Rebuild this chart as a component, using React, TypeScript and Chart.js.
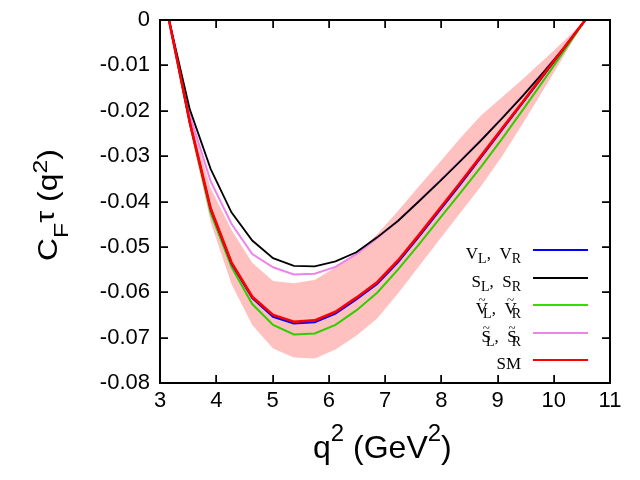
import React, { useEffect, useRef } from 'react';
import { Chart, registerables } from 'chart.js';

Chart.register(...registerables);

// q^2 grid (GeV^2)
const q2 = [3.16, 3.53, 3.9, 4.27, 4.64, 5.01, 5.38, 5.75, 6.12, 6.49, 6.86, 7.23, 7.6, 7.97, 8.34, 8.71, 9.08, 9.45, 9.82, 10.19, 10.56];

// SM
const smVals = [0, -0.0225, -0.0415, -0.0534, -0.061, -0.065, -0.0665, -0.0662, -0.0643, -0.0612, -0.0578, -0.053, -0.0474, -0.0416, -0.0358, -0.0299, -0.0239, -0.018, -0.012, -0.006, 0];
// V_L, V_R
const vVals = [0, -0.0226, -0.0417, -0.0537, -0.0613, -0.0654, -0.0669, -0.0666, -0.0647, -0.0616, -0.0582, -0.0534, -0.0478, -0.042, -0.0362, -0.0302, -0.0242, -0.0182, -0.0122, -0.0061, 0];
// S_L, S_R
const sVals = [0, -0.0197, -0.0328, -0.0424, -0.0486, -0.0525, -0.0542, -0.0543, -0.0532, -0.0512, -0.0479, -0.0443, -0.04, -0.0356, -0.0311, -0.0265, -0.0217, -0.0167, -0.0115, -0.006, 0];
// tilde V_L, tilde V_R
const tvVals = [0, -0.0228, -0.0425, -0.0544, -0.0626, -0.0672, -0.0693, -0.0691, -0.0672, -0.064, -0.0601, -0.055, -0.0495, -0.0438, -0.0381, -0.0323, -0.0262, -0.0198, -0.0133, -0.0067, 0];
// tilde S_L, tilde S_R
const tsVals = [0, -0.021, -0.0355, -0.0449, -0.0516, -0.0545, -0.0561, -0.0559, -0.0544, -0.0516, -0.0481, -0.0442, -0.0399, -0.0355, -0.031, -0.0264, -0.0216, -0.0166, -0.0114, -0.0059, 0];
// SM uncertainty band
const bandHi = [0, -0.0212, -0.037, -0.0462, -0.0535, -0.0575, -0.058, -0.0573, -0.0545, -0.0516, -0.0472, -0.0421, -0.0367, -0.0314, -0.026, -0.021, -0.017, -0.013, -0.0088, -0.0045, 0];
const bandLo = [0, -0.024, -0.0445, -0.0582, -0.0672, -0.0724, -0.0744, -0.0746, -0.0726, -0.0696, -0.0658, -0.0603, -0.0543, -0.0484, -0.0425, -0.0366, -0.03, -0.0228, -0.0153, -0.0077, 0];

const xTicks = [3, 4, 5, 6, 7, 8, 9, 10, 11];
const yTicks = [0, -0.01, -0.02, -0.03, -0.04, -0.05, -0.06, -0.07, -0.08];

type Seg = { t: string; sub?: boolean; sup?: boolean; tilde?: boolean; back?: number; size?: number; shift?: number };

const legendRows: { color: string; segs: Seg[] }[] = [
  { color: '#0000ff', segs: [{ t: 'V' }, { t: 'L', sub: true }, { t: ',  ' }, { t: 'V' }, { t: 'R', sub: true }] },
  { color: '#000000', segs: [{ t: 'S' }, { t: 'L', sub: true }, { t: ',  ' }, { t: 'S' }, { t: 'R', sub: true }] },
  { color: '#33dd00', segs: [{ t: 'V', tilde: true }, { t: 'L', sub: true, back: 5 }, { t: ',  ' }, { t: 'V', tilde: true }, { t: 'R', sub: true, back: 5 }] },
  { color: '#ee82ee', segs: [{ t: 'S', tilde: true }, { t: 'L', sub: true, back: 5 }, { t: ',  ' }, { t: 'S', tilde: true }, { t: 'R', sub: true, back: 5 }] },
  { color: '#ff0000', segs: [{ t: 'SM' }] },
];

const SANS = '"Liberation Sans", Arial, sans-serif';
const SERIF = '"Liberation Serif", "Times New Roman", serif';

function segWidth(ctx: CanvasRenderingContext2D, segs: Seg[], base: number, small: number, fam: string) {
  let w = 0;
  for (const s of segs) {
    ctx.font = `${s.size ?? (s.sub || s.sup ? small : base)}px ${fam}`;
    w += ctx.measureText(s.t).width - (s.back || 0);
  }
  return w;
}

function drawSegs(
  ctx: CanvasRenderingContext2D,
  segs: Seg[],
  x: number,
  y: number,
  base: number,
  small: number,
  fam: string,
  subShift: number,
  supShift: number
) {
  let cx = x;
  ctx.textAlign = 'left';
  ctx.textBaseline = 'alphabetic';
  for (const s of segs) {
    const size = s.size ?? (s.sub || s.sup ? small : base);
    ctx.font = `${size}px ${fam}`;
    cx -= s.back || 0;
    const dy = s.shift ?? (s.sub ? subShift : s.sup ? supShift : 0);
    ctx.fillText(s.t, cx, y + dy);
    const w = ctx.measureText(s.t).width;
    if (s.tilde) {
      ctx.save();
      ctx.font = `${Math.round(size * 0.75)}px ${fam}`;
      ctx.textAlign = 'center';
      ctx.textBaseline = 'middle';
      ctx.fillText('~', cx + w / 2, y - size * 0.8);
      ctx.restore();
    }
    cx += w;
  }
}

function drawFrame(chart: any) {
  const ctx: CanvasRenderingContext2D = chart.ctx;
  const xs = chart.scales.x;
  const ys = chart.scales.y;
  const left = Math.round(xs.getPixelForValue(3));
  const right = Math.round(xs.getPixelForValue(11));
  const top = Math.round(ys.getPixelForValue(0));
  const bottom = Math.round(ys.getPixelForValue(-0.08));
  ctx.save();
  ctx.globalAlpha = 1;
  ctx.globalCompositeOperation = 'source-over';
  ctx.fillStyle = '#000000';
  ctx.fillRect(left - 1, top - 1, right - left + 2, 2);
  ctx.fillRect(left - 1, bottom - 1, right - left + 2, 2);
  ctx.fillRect(left - 1, top - 1, 2, bottom - top + 2);
  ctx.fillRect(right - 1, top - 1, 2, bottom - top + 2);
  const tl = 8;
  for (const v of xTicks) {
    const px = Math.round(xs.getPixelForValue(v));
    ctx.fillRect(px - 0.5, bottom - tl, 1.4, tl);
    ctx.fillRect(px - 0.5, top, 1.4, tl);
  }
  for (const v of yTicks) {
    const py = Math.round(ys.getPixelForValue(v));
    ctx.fillRect(left, py - 0.5, tl, 1.4);
    ctx.fillRect(right - tl, py - 0.5, tl, 1.4);
  }
  ctx.restore();
}

function drawBand(chart: any) {
  const ctx: CanvasRenderingContext2D = chart.ctx;
  const xs = chart.scales.x;
  const ys = chart.scales.y;
  const { left, right, top, bottom } = chart.chartArea;
  ctx.save();
  ctx.beginPath();
  ctx.rect(left, top, right - left, bottom - top);
  ctx.clip();
  ctx.beginPath();
  q2.forEach((x, i) => {
    const px = xs.getPixelForValue(x);
    const py = ys.getPixelForValue(bandHi[i]);
    if (i === 0) ctx.moveTo(px, py);
    else ctx.lineTo(px, py);
  });
  for (let i = q2.length - 1; i >= 0; i--) {
    ctx.lineTo(xs.getPixelForValue(q2[i]), ys.getPixelForValue(bandLo[i]));
  }
  ctx.closePath();
  ctx.fillStyle = '#ffc0c0';
  ctx.fill();
  ctx.restore();
}

function drawTexts(chart: any) {
  const ctx: CanvasRenderingContext2D = chart.ctx;
  ctx.save();
  const rowY = [250, 278, 305, 333, 360];
  legendRows.forEach((row, i) => {
    const y = rowY[i];
    ctx.fillStyle = row.color;
    ctx.fillRect(533, y - 1, 55, 2);
    ctx.fillStyle = '#000';
    const w = segWidth(ctx, row.segs, 17, 14, SERIF);
    drawSegs(ctx, row.segs, 521 - w, y + 9, 17, 14, SERIF, 4, -8);
  });
  ctx.fillStyle = '#000';
  const xt: Seg[] = [{ t: 'q' }, { t: '2', sup: true }, { t: ' (GeV' }, { t: '2', sup: true }, { t: ')' }];
  drawSegs(ctx, xt, 313, 458, 32, 24, SANS, 8, -17);
  ctx.save();
  ctx.translate(57, 261);
  ctx.rotate(-Math.PI / 2);
  ctx.scale(1.18, 1);
  const yt: Seg[] = [
    { t: 'C' },
    { t: 'F', sub: true, shift: 11 },
    { t: 'τ', sup: true, size: 26, shift: -3 },
    { t: ' (q' },
    { t: '2', sup: true, shift: -10 },
    { t: ')' },
  ];
  drawSegs(ctx, yt, 0, 0, 27, 21, SANS, 11, -10);
  ctx.restore();
  ctx.restore();
}

const chartPlugin = {
  id: 'bandFrameText',
  beforeDatasetsDraw(chart: any) {
    drawBand(chart);
  },
  afterDatasetsDraw(chart: any) {
    drawFrame(chart);
  },
  afterDraw(chart: any) {
    drawTexts(chart);
    drawFrame(chart);
  },
};

const pts = (vals: number[]) => q2.map((x, i) => ({ x, y: vals[i] }));

export default function App() {
  const ref = useRef<HTMLCanvasElement | null>(null);
  useEffect(() => {
    if (!ref.current) return;
    Chart.defaults.font.family = SANS;
    Chart.defaults.color = '#000';
    const common = { pointRadius: 0, pointHoverRadius: 0, tension: 0, fill: false };
    const chart = new Chart(ref.current, {
      type: 'line',
      data: {
        datasets: [
          { ...common, label: 'SM', data: pts(smVals), borderColor: '#ff0000', borderWidth: 2.6 },
          { ...common, label: 'V_L, V_R', data: pts(vVals), borderColor: '#0000ff', borderWidth: 2 },
          { ...common, label: 'S_L, S_R', data: pts(sVals), borderColor: '#000000', borderWidth: 1.8 },
          { ...common, label: '~S_L, ~S_R', data: pts(tsVals), borderColor: '#ee82ee', borderWidth: 2 },
          { ...common, label: '~V_L, ~V_R', data: pts(tvVals), borderColor: '#33cc00', borderWidth: 2 },
        ],
      },
      options: {
        animation: false,
        responsive: true,
        maintainAspectRatio: false,
        layout: { padding: { left: 0, right: 30, top: 20, bottom: 0 } },
        plugins: { legend: { display: false }, tooltip: { enabled: false } },
        scales: {
          x: {
            type: 'linear',
            min: 3,
            max: 11,
            grid: { display: false, drawTicks: false },
            border: { display: false },
            ticks: { stepSize: 1, padding: 5, font: { size: 22 }, color: '#000', maxRotation: 0, autoSkip: false },
            afterFit: (s: any) => {
              s.height = 97;
              s.paddingLeft = 0;
              s.paddingRight = 0;
            },
          },
          y: {
            type: 'linear',
            min: -0.08,
            max: 0,
            grid: { display: false, drawTicks: false },
            border: { display: false },
            ticks: {
              stepSize: 0.01,
              padding: 10,
              font: { size: 22 },
              color: '#000',
              autoSkip: false,
              callback: (v: any) => (Math.abs(Number(v)) < 1e-9 ? '0' : Number(v).toFixed(2)),
            },
            afterFit: (s: any) => {
              s.width = 160;
              s.paddingTop = 0;
              s.paddingBottom = 0;
            },
          },
        },
      },
      plugins: [chartPlugin],
    } as any);
    return () => chart.destroy();
  }, []);
  return (
    <div style={{ position: 'absolute', left: 0, top: 0, width: 640, height: 480, background: '#fff' }}>
      <canvas ref={ref} />
    </div>
  );
}
